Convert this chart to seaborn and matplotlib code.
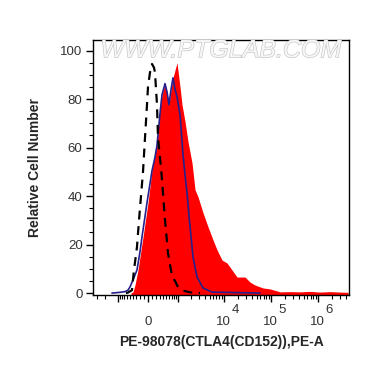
import numpy as np
import pandas as pd
import matplotlib
matplotlib.use('Agg')
import matplotlib.pyplot as plt
import matplotlib.patheffects as pe
import seaborn as sns

# PE-A intensity (biex axis) and % of max
red_x = [-457, -393, -334, -250, -121, 0, 97, 223, 305, 363, 457, 525, 598, 677, 762,
         855, 955, 1124, 1250, 1462, 1705, 2087, 2426, 2818, 3607, 4616, 5905, 7188,
         9188, 11740, 15000, 19170, 28370, 36260, 46300, 68550, 96580, 157700, 257000,
         419600, 684900, 1117700, 1824000, 2977000, 4405000]
red_y = [0, 0.5, 3.3, 9.5, 23.1, 37.2, 50.8, 61, 76, 81.8, 86.4, 83, 77.7, 84, 88.8,
         92, 95, 85, 77.7, 70.7, 62.4, 53.7, 42.6, 39.7, 33.1, 27.3, 21.9, 17.8,
         13.6, 12.4, 9.5, 6.6, 6.6, 4.5, 3.3, 2.1, 1.7, 0.5, 0.6,
         0.5, 0.7, 0.4, 0.6, 0.4, 0.3]

blue_x = [-1388, -1186, -904, -677, -561, -490, -393, -277, -197, -146, -24, 97, 171,
          223, 305, 363, 457, 525, 598, 677, 762, 855, 955, 1124, 1317, 1462, 1620,
          1887, 2195, 2680, 3607, 5626, 17380, 59160]
blue_y = [0, 0.1, 0.3, 0.6, 1.2, 2.5, 5.4, 9.5, 17, 23.1, 37.2, 50.5, 56,
          61, 74, 81.8, 86.4, 83, 77.7, 84, 88.8, 84, 81, 73.6, 57, 48.8, 41.3,
          27.3, 14.9, 6.6, 2.1, 0.4, 0.2, 0]

ctrl_x = [-637, -561, -425, -363, -277, -223, -171, -121, -72, -24, 0, 48, 97, 146, 171,
          223, 250, 334, 363, 457, 561, 718, 855, 1009, 1317, 1887, 3111]
ctrl_y = [0, 0.2, 1.2, 9.5, 19, 30, 40, 50, 64, 77.7, 85, 91, 94.5, 93, 91,
          77.7, 64, 51.7, 46.7, 30.2, 16.5, 7, 5, 2.5, 1, 0.3, 0]

xmajor = [-1000, 0, 1000, 1e4, 1e5, 1e6]
xmajor_labels = ['', '0', '', '10', '10', '10']
xsup = {1e4: '4', 1e5: '5', 1e6: '6'}
yticks = [0, 20, 40, 60, 80, 100]

sns.set_style('ticks')
plt.rcParams['font.family'] = ['Liberation Sans', 'DejaVu Sans']

fig = plt.figure(figsize=(3.7, 3.67), dpi=100)
ax = fig.add_axes([93 / 370, 1 - 295 / 367, 256 / 370, 255.5 / 367])
ax.set_xscale('asinh', linear_width=490)
ax.set_xlim(-3600, 4.6e6)
ax.set_ylim(-0.8, 104.6)

ax.fill_between(red_x, red_y, ax.get_ylim()[0], color='#ff0000', linewidth=0, zorder=1)
sns.lineplot(x=blue_x, y=blue_y, ax=ax, color='#25208c', lw=1.2, zorder=2)
sns.lineplot(x=ctrl_x, y=ctrl_y, ax=ax, color='black', lw=1.6,
             linestyle=(0, (4, 3)), zorder=3)
ax.set_xlim(-3600, 4.6e6)
ax.set_ylim(-0.8, 104.6)

xminor = ([-3000, -2000] + list(range(-900, 0, 100)) + list(range(100, 1000, 100))
          + [k * 10 ** p for p in (3, 4, 5) for k in range(2, 10)] + [2e6, 3e6, 4e6])
ax.set_xticks(xmajor, xmajor_labels)
ax.set_xticks(xminor, minor=True)
ax.set_yticks(yticks, [str(v) for v in yticks])
ax.set_yticks(range(0, 101, 5), minor=True)

ax.tick_params(which='major', length=5, width=1, labelsize=9.5,
               labelcolor='#333333', color='black')
ax.tick_params(which='minor', length=3, width=0.8, color='black')
ax.tick_params(axis='x', which='major', pad=16.5)
ax.tick_params(axis='y', which='major', pad=2.5)
for lab in ax.get_xticklabels():
    lab.set_verticalalignment('baseline')

for v, s in xsup.items():
    ax.annotate(s, xy=(v, 0), xycoords=('data', 'axes fraction'),
                xytext=(5.5, -13), textcoords='offset points',
                ha='left', va='baseline', fontsize=9.5, color='#333333')

for sp in ax.spines.values():
    sp.set_visible(True)
    sp.set_linewidth(1)
    sp.set_color('black')

ax.set_xlabel('PE-98078(CTLA4(CD152)),PE-A', fontsize=10, fontweight='bold')
ax.set_ylabel('Relative Cell Number', fontsize=10, fontweight='bold')
ax.xaxis.set_label_coords(0.5, -0.184)
ax.xaxis.label.set_va('center')
ax.yaxis.set_label_coords(-0.2266, 0.5)
ax.yaxis.label.set_va('center')
ax.yaxis.label.set_ha('center')

# watermark
ax.text(0.5, 0.958, 'WWW.PTGLAB.COM', transform=ax.transAxes, ha='center',
        va='center', fontsize=18, fontstyle='italic', color='#f7f7f7', zorder=4,
        path_effects=[pe.withStroke(linewidth=0.9, foreground='#c4c4c4')])

fig.savefig('out.png', dpi=100)
